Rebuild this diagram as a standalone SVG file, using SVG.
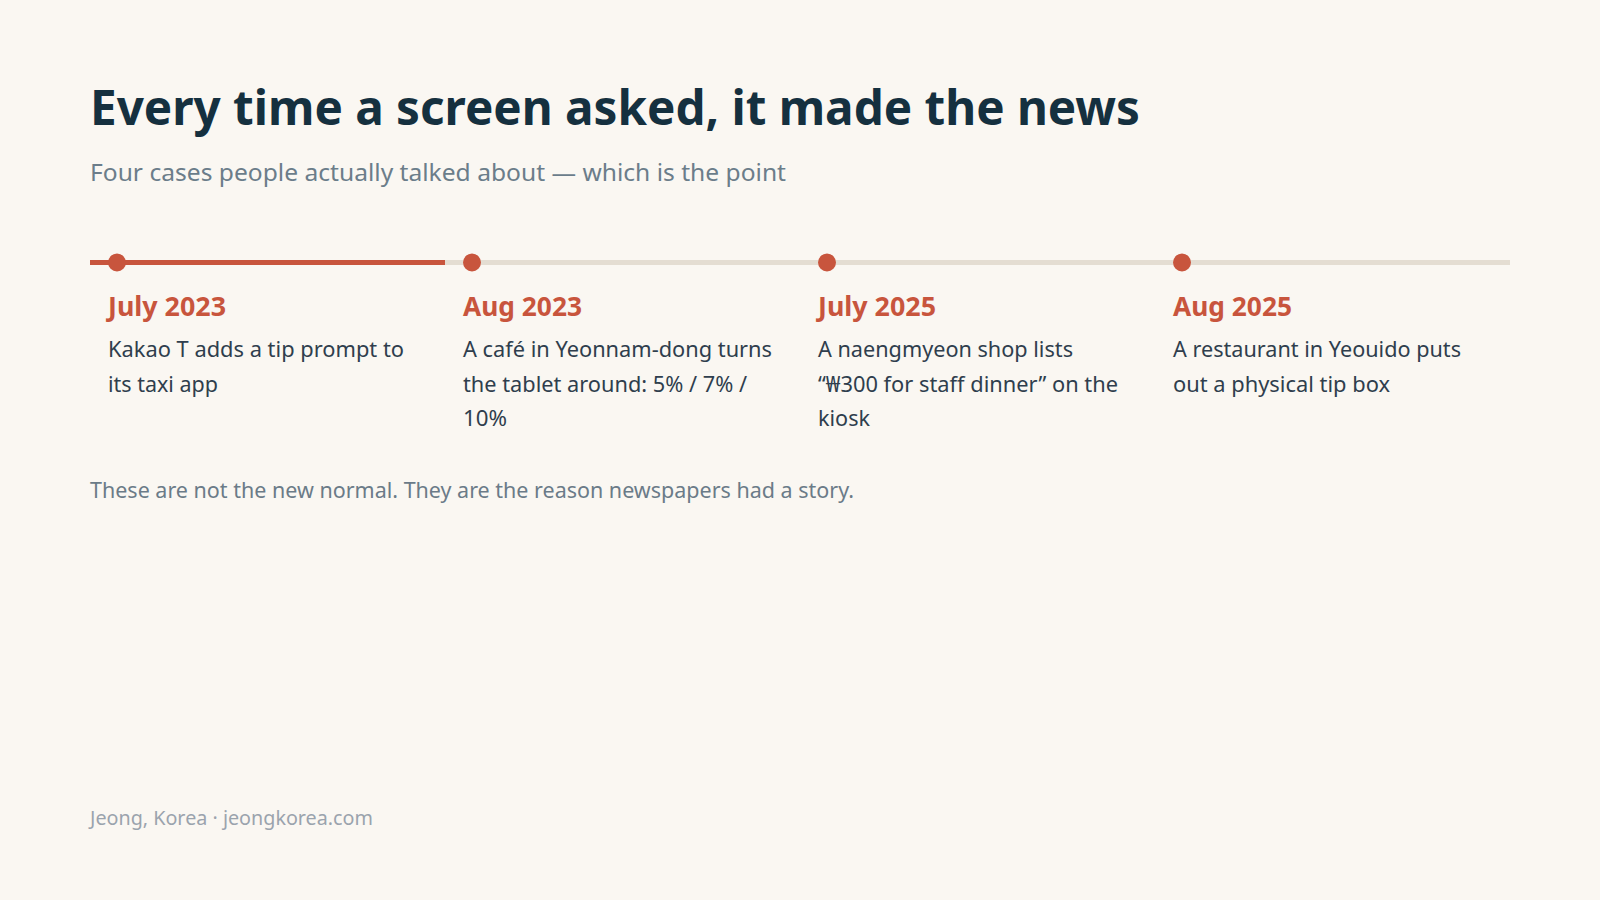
<svg xmlns="http://www.w3.org/2000/svg" width="1600" height="900" viewBox="0 0 1600 900">
<style>
.t{font-family:"Noto Sans","Open Sans","Liberation Sans",sans-serif}
.title{font-size:48px;font-weight:700;fill:#15303f}
.sub{font-size:24px;fill:#6b7d8a}
.date{font-size:26px;font-weight:700;fill:#c8553d}
.desc{font-size:21px;fill:#2f3e4d}
.note{font-size:21px;fill:#6b7b88}
.foot{font-size:19px;fill:#9aa3ad}
.dot{fill:#c8553d}
</style>
<rect width="1600" height="900" fill="#faf7f2"/>
<g id="header">
<text class="t title" x="90" y="125" textLength="1050" lengthAdjust="spacingAndGlyphs">Every time a screen asked, it made the news</text>
<text class="t sub" x="90" y="181" textLength="696" lengthAdjust="spacingAndGlyphs">Four cases people actually talked about — which is the point</text>
</g>
<g id="connectors">
<line x1="90" y1="262.5" x2="1510" y2="262.5" stroke="#e4ddd2" stroke-width="5"/>
<line x1="90" y1="262.5" x2="445" y2="262.5" stroke="#c8553d" stroke-width="5"/>
</g>
<g id="node-july-2023">
<circle class="dot" cx="117" cy="262.5" r="9"/>
<text class="t date" x="108" y="316" textLength="118" lengthAdjust="spacingAndGlyphs">July 2023</text>
<text class="t desc" x="108" y="357" textLength="296" lengthAdjust="spacingAndGlyphs">Kakao T adds a tip prompt to</text>
<text class="t desc" x="108" y="392" textLength="110" lengthAdjust="spacingAndGlyphs">its taxi app</text>
</g>
<g id="node-aug-2023">
<circle class="dot" cx="472" cy="262.5" r="9"/>
<text class="t date" x="463" y="316" textLength="119" lengthAdjust="spacingAndGlyphs">Aug 2023</text>
<text class="t desc" x="463" y="357" textLength="309" lengthAdjust="spacingAndGlyphs">A café in Yeonnam-dong turns</text>
<text class="t desc" x="463" y="392" textLength="284" lengthAdjust="spacingAndGlyphs">the tablet around: 5% / 7% /</text>
<text class="t desc" x="463" y="426" textLength="44" lengthAdjust="spacingAndGlyphs">10%</text>
</g>
<g id="node-july-2025">
<circle class="dot" cx="827" cy="262.5" r="9"/>
<text class="t date" x="818" y="316" textLength="118" lengthAdjust="spacingAndGlyphs">July 2025</text>
<text class="t desc" x="818" y="357" textLength="255" lengthAdjust="spacingAndGlyphs">A naengmyeon shop lists</text>
<text class="t desc" x="818" y="392" textLength="300" lengthAdjust="spacingAndGlyphs">“₩300 for staff dinner” on the</text>
<text class="t desc" x="818" y="426" textLength="52" lengthAdjust="spacingAndGlyphs">kiosk</text>
</g>
<g id="node-aug-2025">
<circle class="dot" cx="1182" cy="262.5" r="9"/>
<text class="t date" x="1173" y="316" textLength="119" lengthAdjust="spacingAndGlyphs">Aug 2025</text>
<text class="t desc" x="1173" y="357" textLength="288" lengthAdjust="spacingAndGlyphs">A restaurant in Yeouido puts</text>
<text class="t desc" x="1173" y="392" textLength="217" lengthAdjust="spacingAndGlyphs">out a physical tip box</text>
</g>
<g id="footer">
<text class="t note" x="90" y="498" textLength="764" lengthAdjust="spacingAndGlyphs">These are not the new normal. They are the reason newspapers had a story.</text>
<text class="t foot" x="90" y="825" textLength="283" lengthAdjust="spacingAndGlyphs">Jeong, Korea · jeongkorea.com</text>
</g>
</svg>
